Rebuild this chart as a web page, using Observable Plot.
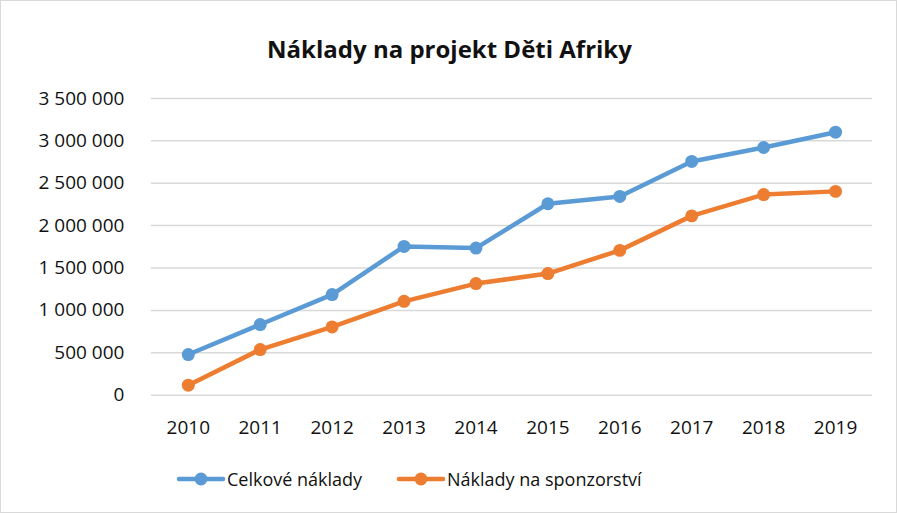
<!DOCTYPE html>
<html>
<head>
<meta charset="utf-8">
<script src="https://cdn.jsdelivr.net/npm/d3@7"></script>
<script src="https://cdn.jsdelivr.net/npm/@observablehq/plot@0.6"></script>
<style>
  body { margin: 0; background: #fff; font-family: "Open Sans", Lato, sans-serif; }
  #frame { position: relative; width: 895px; height: 511px; border: 1px solid #d9d9d9; background: #fff; overflow: hidden; }
  #title { position: absolute; left: 0; top: 31px; width: 897px; text-align: center; font-size: 24px; font-weight: bold; color: #111; }
  #chart { position: absolute; left: -1px; top: 79px; }
  .leg { position: absolute; top: 463px; display: flex; align-items: center; font-size: 18px; color: #111; }
</style>
</head>
<body>
<div id="frame">
  <div id="title">Náklady na projekt Děti Afriky</div>
  <div id="chart"></div>
  <div id="legend"></div>
</div>
<script>
const years = ["2010","2011","2012","2013","2014","2015","2016","2017","2018","2019"];
const celkove = [479000, 833000, 1186000, 1755000, 1735000, 2258000, 2344000, 2757000, 2922000, 3102000];
const sponzorstvi = [118000, 538000, 805000, 1107000, 1316000, 1434000, 1708000, 2115000, 2366000, 2404000];
const seriesNames = ["Celkové náklady", "Náklady na sponzorství"];
const seriesColors = ["#5b9bd5", "#ed7d31"];
const yTicks = [0, 500000, 1000000, 1500000, 2000000, 2500000, 3000000, 3500000];

const data = [];
years.forEach((y, i) => {
  data.push({year: y, value: celkove[i], series: seriesNames[0]});
  data.push({year: y, value: sponzorstvi[i], series: seriesNames[1]});
});

const fmt = d => d3.format(",")(d).replace(/,/g, " ");

const chart = Plot.plot({
  width: 897,
  height: 372,
  marginTop: 18,
  marginBottom: 57,
  marginLeft: 151,
  marginRight: 24,
  style: {fontFamily: '"Open Sans", Lato, sans-serif', fontSize: "19px", color: "#111", background: "transparent"},
  x: {type: "point", domain: years, padding: 0.5, label: null},
  y: {domain: [0, 3500000], ticks: yTicks, label: null},
  color: {domain: seriesNames, range: seriesColors},
  marks: [
    Plot.gridY(yTicks, {stroke: "#d9d9d9", strokeOpacity: 1, strokeWidth: 1.5}),
    Plot.axisY(yTicks, {tickSize: 0, tickPadding: 27, tickFormat: fmt, fontSize: 19, fill: "#111"}),
    Plot.axisX({tickSize: 0, tickPadding: 25, fontSize: 19, fill: "#111"}),
    Plot.line(data, {x: "year", y: "value", stroke: "series", strokeWidth: 4.5, z: "series"}),
    Plot.dot(data, {x: "year", y: "value", fill: "series", r: 6.5})
  ]
});
document.getElementById("chart").appendChild(chart);

const legend = document.getElementById("legend");
const legX = [175, 395];
seriesNames.forEach((name, i) => {
  const el = document.createElement("div");
  el.className = "leg";
  el.style.left = legX[i] + "px";
  el.innerHTML = `<svg width="50" height="30" style="margin-right:1px"><line x1="3" x2="47" y1="15" y2="15" stroke="${seriesColors[i]}" stroke-width="4.5" stroke-linecap="round"/><circle cx="25" cy="15" r="6.5" fill="${seriesColors[i]}"/></svg><span>${name}</span>`;
  legend.appendChild(el);
});
</script>
</body>
</html>
